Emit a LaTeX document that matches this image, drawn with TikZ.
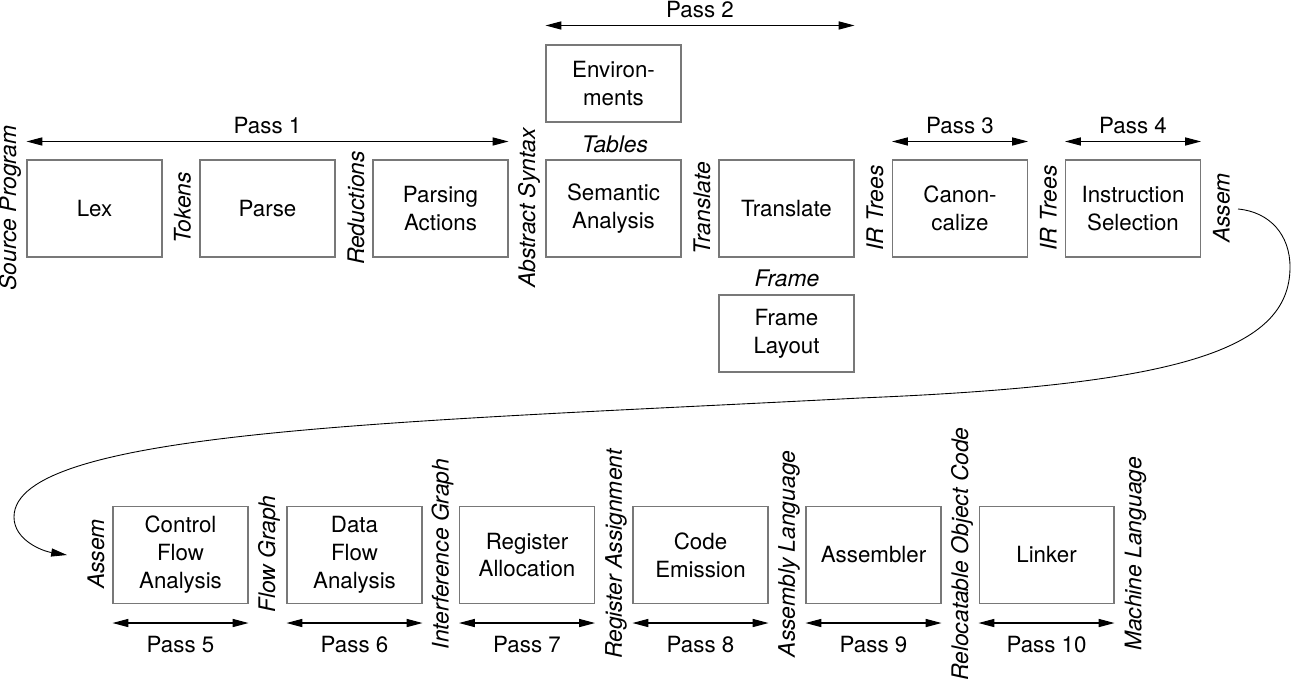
\documentclass[tikz,border=0pt]{standalone}
\usepackage{fontspec}
\setmainfont{TeX Gyre Heros}
\usetikzlibrary{arrows.meta}
\newcommand{\bxfont}{\fontsize{12.7}{15.9}\selectfont}
\newcommand{\itfont}{\fontsize{13}{15.9}\selectfont\itshape}
\definecolor{boxgray}{RGB}{120,120,120}
\begin{document}
\begin{tikzpicture}[x=0.02cm,y=-0.02cm,
  box/.style={draw=boxgray, line width=0.6pt, minimum width=2.7cm, minimum height=1.94cm,
              align=center, inner sep=0pt, font=\bxfont},
  smallbox/.style={box, minimum height=1.54cm},
  lbl/.style={rotate=90, font=\itfont, inner sep=0pt},
  hlbl/.style={font=\itfont, inner sep=0pt},
  passlbl/.style={font=\bxfont, inner sep=0pt},
  passarrow/.style={{Triangle[length=9pt,width=4.6pt]}-{Triangle[length=9pt,width=4.6pt]}, line width=0.6pt},
  flow/.style={-{Triangle[length=9pt,width=4.6pt]}, line width=0.5pt}]
\useasboundingbox (0,0) rectangle (1291,682);

% top row
\node[box] (lex)   at (94.5,208.5)  {Lex};
\node[box] (parse) at (267.5,208.5) {Parse};
\node[box] (pact)  at (440.5,208.5) {Parsing\\Actions};
\node[box] (sem)   at (613.5,208.5) {Semantic\\Analysis};
\node[box] (trans) at (786.5,208.5) {Translate};
\node[box] (canon) at (960,208.5)   {Canon-\\calize};
\node[box] (isel)  at (1133,208.5)  {Instruction\\Selection};
\node[smallbox] (env)   at (613.5,83.5)  {Environ-\\ments};
\node[smallbox] (frame) at (786.5,333.5) {Frame\\Layout};

\node[lbl] (l1) at (10,208)     {Source Program};
\node[lbl] (l2) at (182.5,208)  {Tokens};
\node[lbl] (l3) at (356,208)    {Reductions};
\node[lbl] (l4) at (529,208)    {Abstract Syntax};
\node[lbl] (l5) at (702,208)    {Translate};
\node[lbl] (l6) at (875,208)    {IR Trees};
\node[lbl] (l7) at (1048.5,208) {IR Trees};
\node[lbl] (l8) at (1221.5,208) {Assem};
\node[hlbl] (tables) at (615,144) {Tables};
\node[hlbl] (framel) at (787,278) {Frame};

% top pass arrows
\draw[passarrow] ([yshift=0.36cm]lex.north west) -- node[passlbl, yshift=0.32cm] (p1) {Pass 1} ([yshift=0.36cm]pact.north east);
\draw[passarrow] ([yshift=0.38cm]env.north west) -- node[passlbl, yshift=0.32cm] (p2) {Pass 2} ([yshift=0.38cm]env.north west -| trans.east);
\draw[passarrow] ([yshift=0.36cm]canon.north west) -- node[passlbl, yshift=0.32cm] (p3) {Pass 3} ([yshift=0.36cm]canon.north east);
\draw[passarrow] ([yshift=0.36cm]isel.north west) -- node[passlbl, yshift=0.32cm] (p4) {Pass 4} ([yshift=0.36cm]isel.north east);

% bottom row
\node[box] (cfa)  at (180.5,555)  {Control\\Flow\\Analysis};
\node[box] (dfa)  at (354.5,555)  {Data\\Flow\\Analysis};
\node[box] (ralloc) at (527,555)  {Register\\Allocation};
\node[box] (cemit) at (700.5,555) {Code\\Emission};
\node[box] (asm)  at (873.5,555)  {Assembler};
\node[box] (link) at (1046.5,555) {Linker};

\node[lbl] (b1) at (96,554)     {Assem};
\node[lbl] (b2) at (269,554)    {Flow Graph};
\node[lbl] (b3) at (442.5,554)  {Interference Graph};
\node[lbl] (b4) at (616,554)    {Register Assignment};
\node[lbl] (b5) at (789,554)    {Assembly Language};
\node[lbl] (b6) at (962,554)    {Relocatable Object Code};
\node[lbl] (b7) at (1135.5,554) {Machine Language};

% bottom pass arrows
\foreach \b/\n in {cfa/5, dfa/6, ralloc/7, cemit/8, asm/9, link/10}{
  \draw[passarrow] ([yshift=-0.38cm]\b.south west) -- node[passlbl, yshift=-0.44cm] {Pass \n} ([yshift=-0.38cm]\b.south east);
}

% long connector Assem -> Assem
\coordinate (cs) at (1238,209);
\coordinate (ce) at (67,555);
\draw[flow] (cs) .. controls (1270,212) and (1290,235) .. (1290,267)
  .. controls (1290,350) and (1180,385) .. (860,398)
  .. controls (400,422) and (14,430) .. (14,517)
  .. controls (14,540) and (42,551) .. (ce);
\end{tikzpicture}
\end{document}
